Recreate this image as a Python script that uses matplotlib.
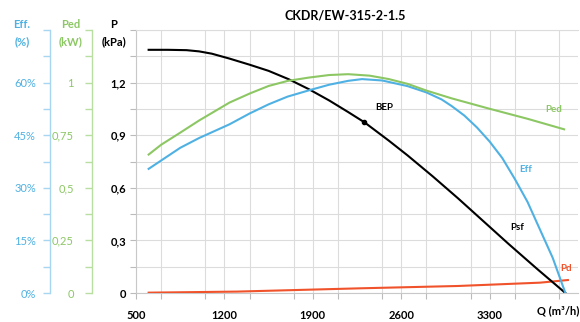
import matplotlib
matplotlib.use("Agg")
import matplotlib.pyplot as plt
from matplotlib.ticker import MultipleLocator, FixedLocator

plt.rcParams['font.family'] = ['Lato', 'DejaVu Sans']

# ---- data ----
q_psf = [600, 750, 900, 1000, 1100, 1240, 1400, 1550, 1710, 1870, 2030, 2180, 2310,
         2500, 2650, 2850, 3050, 3250, 3450, 3680, 3900]
psf   = [1.387, 1.387, 1.385, 1.378, 1.365, 1.337, 1.302, 1.267, 1.219, 1.162, 1.098, 1.032, 0.973,
         0.870, 0.785, 0.665, 0.540, 0.410, 0.280, 0.135, 0.0]

q_eff = [600, 850, 1000, 1240, 1400, 1550, 1700, 1870, 2030, 2180, 2290, 2450, 2650, 2800,
         2920, 3000, 3100, 3200, 3300, 3400, 3500, 3600, 3700, 3800, 3860, 3900]
eff   = [35.4, 41.4, 44.2, 48.1, 51.2, 53.8, 56.0, 57.8, 59.4, 60.5, 61.0, 60.6, 59.0, 57.2,
         55.2, 53.3, 50.6, 47.2, 43.2, 38.5, 32.5, 26.0, 18.0, 10.0, 4.0, 0.0]

q_ped = [600, 700, 850, 1000, 1240, 1400, 1550, 1700, 1870, 2030, 2180, 2350, 2500, 2650,
         2800, 3000, 3285, 3600, 3890]
ped   = [0.658, 0.705, 0.762, 0.820, 0.905, 0.948, 0.984, 1.008, 1.024, 1.036, 1.040, 1.033, 1.017, 0.994,
         0.962, 0.925, 0.878, 0.828, 0.778]

q_pd = [600, 1300, 2290, 3050, 3700, 3920]
pd   = [0.002, 0.008, 0.027, 0.040, 0.059, 0.074]

bep_q, bep_p = 2307, 0.975

x_ticks = [500, 1200, 1900, 2600, 3300]
p_ticks = [0, 0.3, 0.6, 0.9, 1.2]
p_labels = ["0", "0,3", "0,6", "0,9", "1,2"]
eff_ticks = [0, 15, 30, 45, 60]
eff_labels = ["0%", "15%", "30%", "45%", "60%"]
ped_ticks = [0, 0.25, 0.5, 0.75, 1.0]
ped_labels = ["0", "0,25", "0,5", "0,75", "1"]

title = "CKDR/EW-315-2-1.5"

BLUE = '#4fb1e3'
BLUE_L = '#a8d5ef'
GREEN = '#8cc764'
GREEN_L = '#b9dea2'
RED = '#f0532b'
GRID = '#dcdcdc'

fig = plt.figure(figsize=(5.8, 3.22), dpi=100)
ax = fig.add_axes([136/580, 29/322, 442/580, 263/322])
ax.set_xlim(500, 4000)
ax.set_ylim(0, 1.5)
ax.xaxis.set_major_locator(FixedLocator(x_ticks))
ax.xaxis.set_minor_locator(MultipleLocator(350))
ax.yaxis.set_major_locator(FixedLocator(p_ticks))
ax.yaxis.set_minor_locator(MultipleLocator(0.15))
ax.set_yticklabels(p_labels)
ax.grid(True, which='both', color=GRID, lw=0.8)
ax.set_axisbelow(True)
for s in ax.spines.values():
    s.set_color('#c8c8c8')
    s.set_linewidth(0.8)
ax.spines['right'].set_visible(False)
ax.spines['top'].set_color(GRID)
ax.tick_params(axis='both', which='both', length=4, color='#bbbbbb', width=0.8)
ax.tick_params(axis='y', labelsize=8, pad=3)
ax.tick_params(axis='x', labelsize=8, pad=8)
for lab in ax.get_yticklabels():
    lab.set_fontweight('bold')
for lab in ax.get_xticklabels():
    lab.set_fontweight('bold')

ax.plot(q_psf, psf, color='black', lw=1.5, zorder=5)
ax.plot(q_pd, pd, color=RED, lw=1.5, zorder=4)
ax.plot([bep_q], [bep_p], 'o', color='black', ms=3, zorder=6)


def side_axis(pos, color, light, ylim, ticks, labels, minor, pad):
    t = ax.twinx()
    t.set_ylim(*ylim)
    t.yaxis.set_ticks_position('left')
    t.yaxis.set_label_position('left')
    t.spines['left'].set_position(('axes', pos))
    t.spines['left'].set_color(light)
    t.spines['left'].set_linewidth(1.0)
    for s in ['right', 'top', 'bottom']:
        t.spines[s].set_visible(False)
    t.yaxis.set_major_locator(FixedLocator(ticks))
    t.yaxis.set_minor_locator(MultipleLocator(minor))
    t.set_yticklabels(labels)
    t.tick_params(axis='y', which='both', length=5, color=light, width=1.0,
                  labelcolor=color, labelsize=8, pad=pad)
    return t


ax_eff = side_axis((50 - 136) / 442, BLUE, BLUE_L, (0, 75), eff_ticks, eff_labels, 7.5, 5)
ax_ped = side_axis((92 - 136) / 442, GREEN, GREEN_L, (0, 1.25), ped_ticks, ped_labels, 0.125, 8)

ax_ped.plot(q_ped, ped, color=GREEN, lw=1.5, zorder=3)
ax_eff.plot(q_eff, eff, color=BLUE, lw=1.5, zorder=3)

# curve labels
ax.text(2467, 1.06, "BEP", fontsize=7, fontweight='bold', color='black', ha='center', va='center')
ax.text(3805, 1.047, "Ped", fontsize=7, fontweight='bold', color=GREEN, ha='center', va='center')
ax.text(3584, 0.704, "Eff", fontsize=7, fontweight='bold', color=BLUE, ha='center', va='center')
ax.text(3521, 0.372, "Psf", fontsize=7, fontweight='bold', color='black', ha='center', va='center')
ax.text(3907, 0.137, "Pd", fontsize=7, fontweight='bold', color=RED, ha='center', va='center')

# title and headers
fig.text(345/580, 1 - 15/322, title, fontsize=9, fontweight='bold', ha='center', va='center')
fig.text(22/580, 1 - 25/322, "Eff.", fontsize=8, fontweight='bold', color=BLUE, ha='center', va='center')
fig.text(22/580, 1 - 42/322, "(%)", fontsize=8, fontweight='bold', color=BLUE, ha='center', va='center')
fig.text(71/580, 1 - 25/322, "Ped", fontsize=8, fontweight='bold', color=GREEN, ha='center', va='center')
fig.text(71/580, 1 - 42/322, "(kW)", fontsize=8, fontweight='bold', color=GREEN, ha='center', va='center')
fig.text(114/580, 1 - 25/322, "P", fontsize=8, fontweight='bold', color='black', ha='center', va='center')
fig.text(114/580, 1 - 42/322, "(kPa)", fontsize=8, fontweight='bold', color='black', ha='center', va='center')
fig.text(558/580, 1 - 311/322, "Q (m³/h)", fontsize=8, fontweight='bold', color='black', ha='center', va='center')

fig.savefig("out.png", dpi=100)
